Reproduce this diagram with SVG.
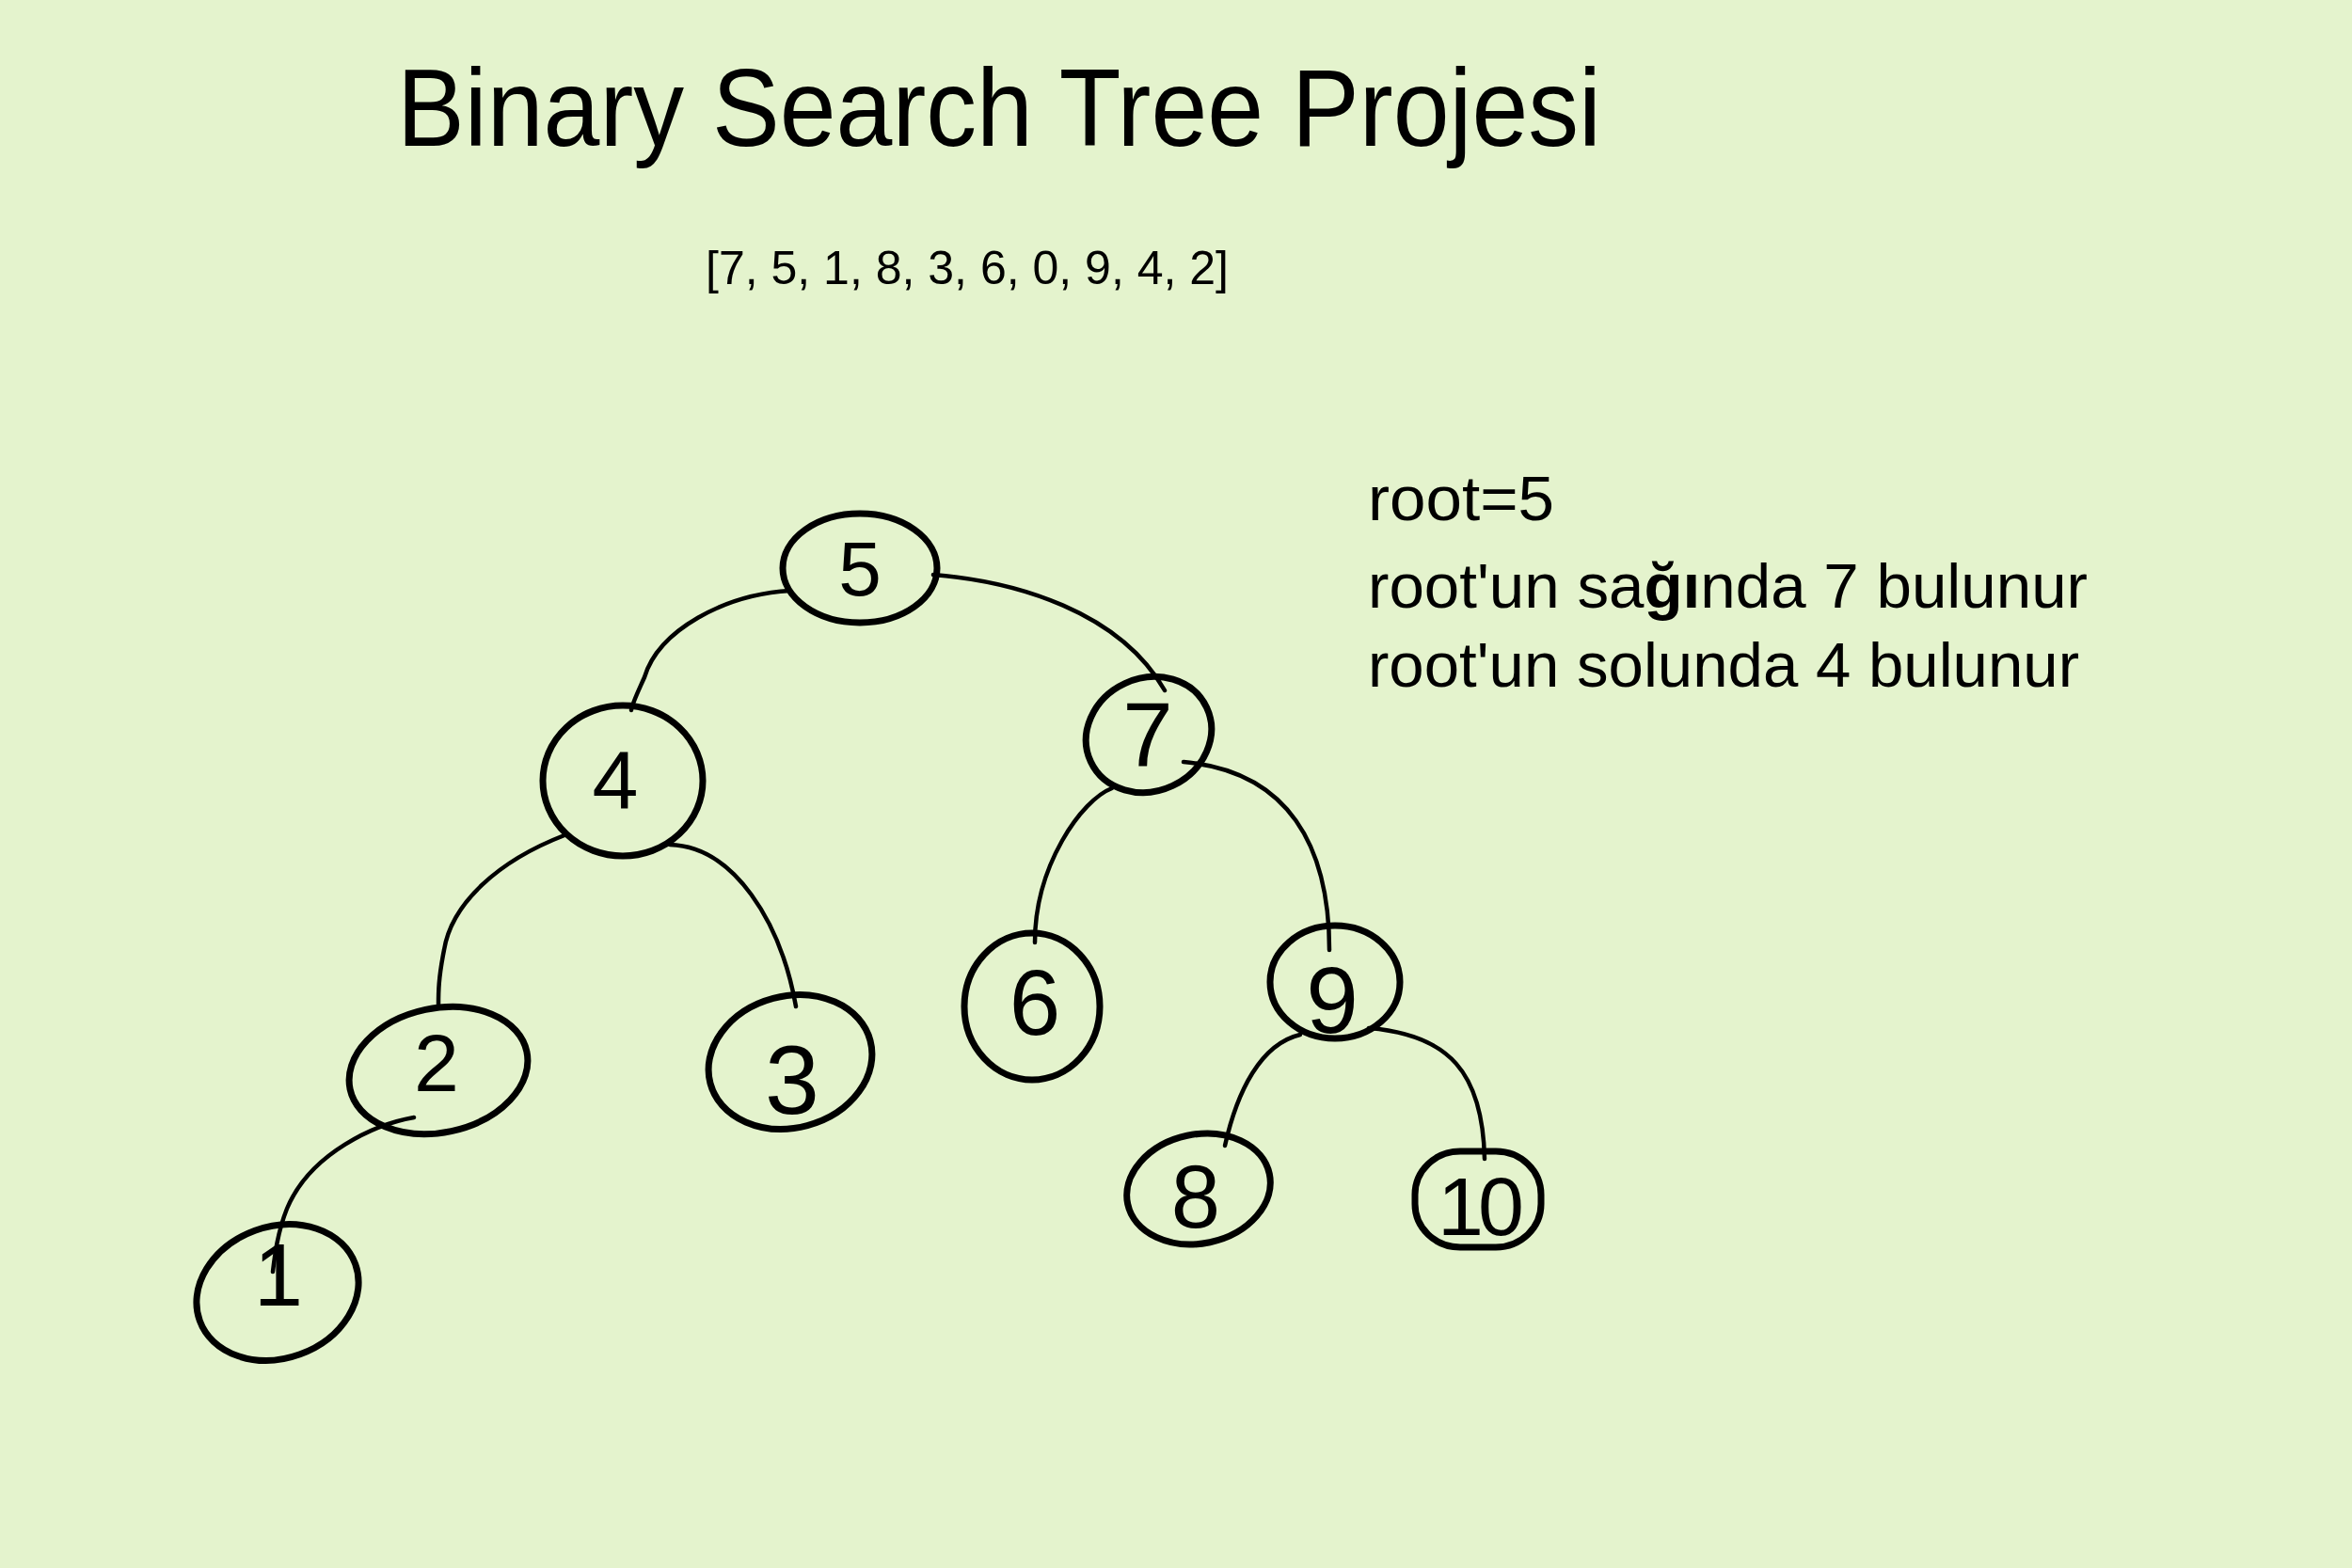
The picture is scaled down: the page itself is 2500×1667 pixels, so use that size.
<svg xmlns="http://www.w3.org/2000/svg" width="2500" height="1667" viewBox="0 0 2500 1667">
<style>
.bg{fill:#e4f3cd}
.node{fill:none;stroke:#000;stroke-width:7}
.edge{fill:none;stroke:#000;stroke-width:4.5;stroke-linecap:round;stroke-linejoin:round}
.num{font-family:"Liberation Sans",Arial,sans-serif;fill:#000;text-anchor:middle}
.txt{font-family:"Liberation Sans",Arial,sans-serif;fill:#000}
</style>
<rect class="bg" x="0" y="0" width="2500" height="1667"/>
<text class="txt" x="422" y="155" font-size="116" textLength="1280" lengthAdjust="spacingAndGlyphs">Binary Search Tree Projesi</text>
<text class="txt" x="750" y="302" font-size="50" textLength="556" lengthAdjust="spacingAndGlyphs">[7, 5, 1, 8, 3, 6, 0, 9, 4, 2]</text>
<g id="notes">
<text class="txt" x="1454" y="553" font-size="66" textLength="198" lengthAdjust="spacingAndGlyphs">root=5</text>
<text class="txt" x="1454" y="646" font-size="66" textLength="765" lengthAdjust="spacingAndGlyphs">root'un sa<tspan font-weight="bold">ğı</tspan>nda 7 bulunur</text>
<text class="txt" x="1454" y="730" font-size="66" textLength="756" lengthAdjust="spacingAndGlyphs">root'un solunda 4 bulunur</text>
</g>
<g id="connectors">
<path class="edge" d="M840,628 C770,632 700,670 685,720 C676,740 672,748 671,755"/>
<path class="edge" d="M992,611 C1080,618 1190,650 1238,734"/>
<path class="edge" d="M600,888 C530,915 480,960 472,1010 C466,1040 466,1055 466,1068"/>
<path class="edge" d="M712,898 C780,900 830,980 846,1070"/>
<path class="edge" d="M440,1188 C400,1195 330,1225 305,1285 C295,1310 292,1335 290,1352"/>
<path class="edge" d="M1182,838 C1150,850 1100,920 1100,1002"/>
<path class="edge" d="M1258,810 C1370,820 1413,900 1413,1010"/>
<path class="edge" d="M1382,1100 C1340,1110 1315,1160 1302,1218"/>
<path class="edge" d="M1455,1093 C1540,1100 1576,1140 1578,1232"/>
</g>
<g id="node5"><ellipse class="node" cx="914" cy="604" rx="82" ry="58"/><text class="num" x="914" y="633" font-size="82">5</text></g>
<g id="node4"><ellipse class="node" cx="662" cy="830" rx="85" ry="80"/><text class="num" x="654" y="860" font-size="88">4</text></g>
<g id="node7"><ellipse class="node" cx="1221" cy="781" rx="68" ry="60" transform="rotate(-25 1221 781)"/><text class="num" x="1220" y="814" font-size="96">7</text></g>
<g id="node2"><ellipse class="node" cx="466" cy="1138" rx="96" ry="66" transform="rotate(-12 466 1138)"/><text class="num" x="464" y="1160" font-size="86">2</text></g>
<g id="node3"><ellipse class="node" cx="840" cy="1129" rx="88" ry="70" transform="rotate(-15 840 1129)"/><text class="num" x="842" y="1184" font-size="104">3</text></g>
<g id="node6"><ellipse class="node" cx="1097" cy="1070" rx="72" ry="78"/><text class="num" x="1100" y="1100" font-size="98">6</text></g>
<g id="node9"><ellipse class="node" cx="1419" cy="1044" rx="69" ry="60"/><text class="num" x="1416" y="1098" font-size="100">9</text></g>
<g id="node8"><ellipse class="node" cx="1274" cy="1264" rx="77" ry="58" transform="rotate(-12 1274 1264)"/><text class="num" x="1271" y="1305" font-size="94">8</text></g>
<g id="node10"><rect class="node" x="1504" y="1224" width="134" height="102" rx="48" ry="46"/><text class="num" x="1571" y="1313" font-size="88" letter-spacing="-6">10</text></g>
<g id="node1"><ellipse class="node" cx="295" cy="1374" rx="88" ry="70" transform="rotate(-20 295 1374)"/><text class="num" x="296" y="1388" font-size="94">1</text></g>
</svg>
